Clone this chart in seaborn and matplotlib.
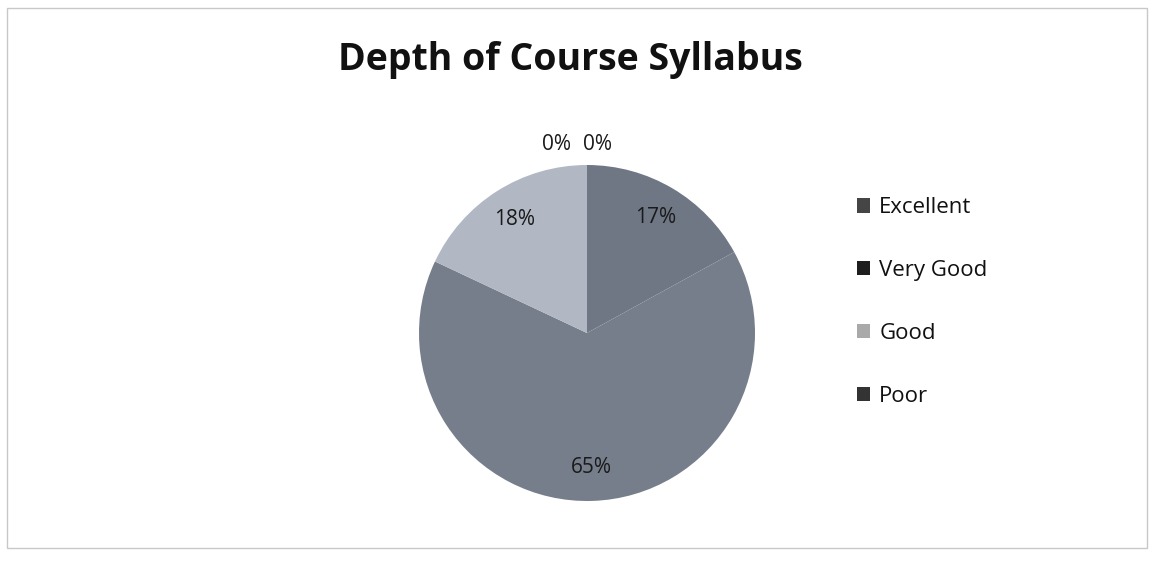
import matplotlib
matplotlib.use("Agg")
import matplotlib.pyplot as plt
from matplotlib.patches import Rectangle, Patch
import numpy as np
import seaborn as sns

sns.set_theme(style="white")
plt.rcParams['font.family'] = ['Open Sans', 'DejaVu Sans']

categories = ["Excellent", "Very Good", "Good", "Poor", ""]
values = [17, 65, 18, 0, 0]
pct_labels = ["17%", "65%", "18%", "0%", "0%"]
slice_colors = ["#6f7785", "#767e8b", "#b1b8c4", "#555b66", "#555b66"]
legend_colors = ["#454545", "#1e1e1e", "#a9a9a9", "#333333"]

fig = plt.figure(figsize=(11.52, 5.63), dpi=100)
fig.patch.set_facecolor("white")

# chart border
fig.patches.append(Rectangle((7 / 1152, 1 - 548 / 563), 1140 / 1152, 540 / 563,
                             transform=fig.transFigure, fill=False,
                             edgecolor="#c8c8c8", linewidth=1.0))

cx, cy, r = 587, 333, 168
ax = fig.add_axes([(cx - r) / 1152, 1 - (cy + r) / 563, 2 * r / 1152, 2 * r / 563])
wedges, _ = ax.pie(values, colors=slice_colors, startangle=90, counterclock=False,
                   radius=1.0, wedgeprops=dict(linewidth=0))
ax.set_xlim(-1, 1)
ax.set_ylim(-1, 1)
ax.set_aspect("auto")
ax.axis("off")

# labels
zero_count = 0
for w, lab, v in zip(wedges, pct_labels, values):
    ang = np.deg2rad((w.theta1 + w.theta2) / 2)
    if v > 0:
        x, y = 0.8 * np.cos(ang), 0.8 * np.sin(ang)
    else:
        x = -0.18 + 0.24 * zero_count
        y = 1.12
        zero_count += 1
    ax.text(x, y, lab, ha="center", va="center", fontsize=15, color="#1a1a1a",
            clip_on=False)

fig.text(570 / 1152, 1 - 60 / 563, "Depth of Course Syllabus", ha="center", va="center",
         fontsize=27, fontweight="bold", color="#111111")

handles = [Patch(facecolor=c, edgecolor="none") for c in legend_colors]
leg = fig.legend(handles, categories[:4], loc="center left",
                 bbox_to_anchor=(846 / 1152, 1 - 302 / 563), frameon=False,
                 fontsize=16, labelspacing=1.88, handlelength=0.6, handleheight=0.6,
                 handletextpad=0.4, borderpad=0)
for t in leg.get_texts():
    t.set_color("#111111")

fig.savefig("out.png", dpi=100, facecolor="white")
